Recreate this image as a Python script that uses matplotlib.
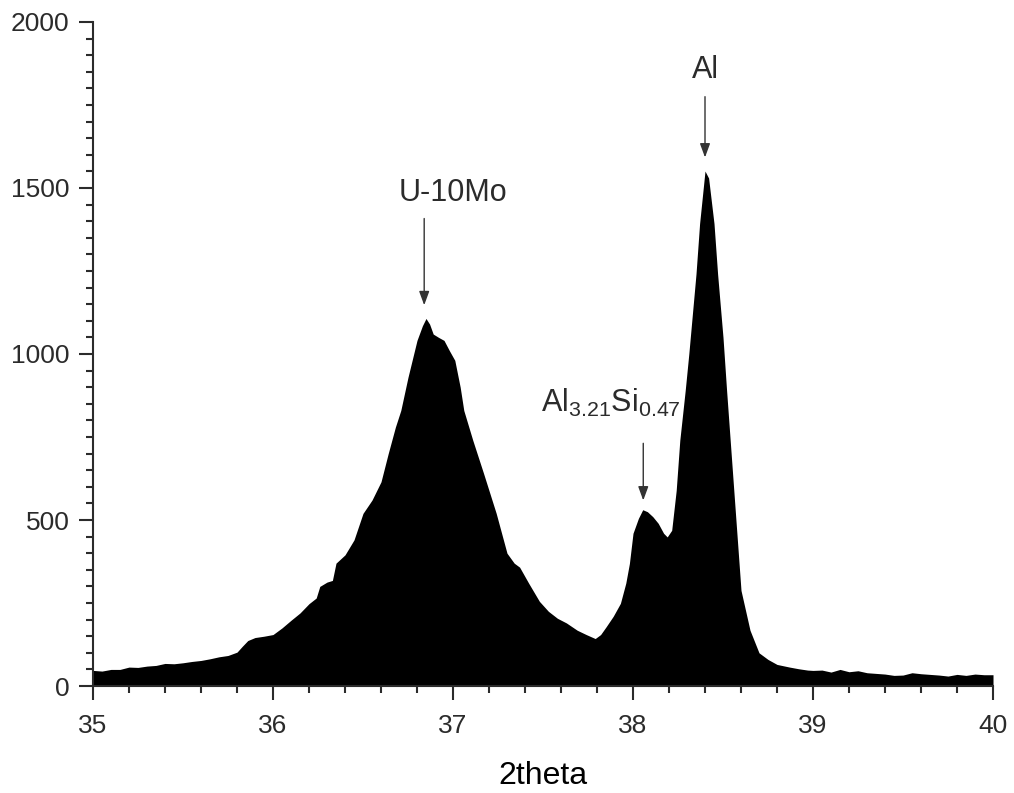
import matplotlib
matplotlib.use("Agg")
import matplotlib.pyplot as plt
from matplotlib.ticker import MultipleLocator

# XRD scan
two_theta = [
    35.00, 35.05, 35.10, 35.15, 35.20, 35.25, 35.30, 35.35, 35.40, 35.45,
    35.50, 35.55, 35.60, 35.65, 35.70, 35.75, 35.80, 35.83, 35.86, 35.90,
    35.95, 36.00, 36.05, 36.10, 36.15, 36.20, 36.24, 36.26, 36.30, 36.33,
    36.35, 36.40, 36.45, 36.50, 36.55, 36.60, 36.64, 36.68, 36.71, 36.75,
    36.80, 36.83, 36.85, 36.87, 36.89, 36.92, 36.95, 36.98, 37.01, 37.04,
    37.06, 37.11, 37.17, 37.24, 37.30, 37.34, 37.37, 37.42, 37.48, 37.53,
    37.58, 37.63, 37.69, 37.74, 37.79, 37.82, 37.85, 37.89, 37.93, 37.96,
    37.98, 38.00, 38.03, 38.054, 38.08, 38.11, 38.14, 38.17, 38.19, 38.215,
    38.24, 38.26, 38.29, 38.31, 38.35, 38.37, 38.40, 38.42, 38.45, 38.47,
    38.50, 38.52, 38.56, 38.60, 38.65, 38.70, 38.75, 38.80, 38.87, 38.92,
    38.97, 39.00, 39.05, 39.10, 39.15, 39.20, 39.25, 39.30, 39.35, 39.40,
    39.45, 39.50, 39.55, 39.60, 39.65, 39.70, 39.75, 39.80, 39.85, 39.90,
    39.95, 40.00,
]
intensity = [
    47, 45, 50, 50, 57, 56, 60, 62, 68, 67,
    70, 74, 77, 82, 88, 92, 102, 120, 137, 146,
    150, 155, 175, 198, 220, 248, 265, 300, 313, 318,
    370, 395, 440, 520, 560, 615, 700, 780, 830, 930,
    1041, 1085, 1107, 1090, 1060, 1050, 1041, 1010, 981, 900,
    830, 740, 640, 520, 400, 370, 358, 310, 255, 225,
    204, 190, 168, 155, 143, 155, 178, 210, 249, 310,
    369, 460, 505, 531, 525, 510, 490, 460, 449, 469,
    589, 740, 890, 1000, 1241, 1393, 1551, 1530, 1393, 1241,
    1050, 890, 589, 288, 168, 100, 80, 65, 57, 52,
    48, 47, 48, 42, 50, 43, 46, 40, 38, 36,
    32, 33, 40, 37, 35, 33, 30, 35, 32, 36,
    34, 34,
]

# peak labels: text, text anchor, arrow tail, arrow tip
labels = ["U-10Mo", r"Al$_\mathregular{3.21}$Si$_\mathregular{0.47}$", "Al"]
label_xy = [(37.0, 1462), (37.875, 825), (38.40, 1830)]
arrow_from = [(36.84, 1408), (38.057, 731), (38.40, 1775)]
arrow_to = [(36.84, 1147), (38.057, 559), (38.40, 1592)]

FG = "#2b2b2b"
plt.rcParams.update({
    "font.family": ["Liberation Sans", "DejaVu Sans"],
    "text.color": FG,
    "axes.edgecolor": FG,
    "xtick.color": FG,
    "ytick.color": FG,
})

fig = plt.figure(figsize=(10.14, 7.93), dpi=100)
ax = fig.add_axes([0.0917, 0.1349, 0.8876, 0.8374])

ax.fill_between(two_theta, intensity, 0, color="black", lw=0)

ax.set_xlim(35, 40)
ax.set_ylim(0, 2000)
ax.xaxis.set_major_locator(MultipleLocator(1))
ax.xaxis.set_minor_locator(MultipleLocator(0.2))
ax.yaxis.set_major_locator(MultipleLocator(500))
ax.yaxis.set_minor_locator(MultipleLocator(50))
ax.tick_params(which="major", direction="out", length=10, width=1.5, labelsize=19, pad=7)
ax.tick_params(axis="x", which="major", pad=10)
ax.tick_params(which="minor", direction="out", length=5, width=1.5)
for side in ("top", "right"):
    ax.spines[side].set_visible(False)
for side in ("left", "bottom"):
    ax.spines[side].set_linewidth(1.5)

ax.set_xlabel("2theta", fontsize=23, labelpad=17)

for txt, (tx, ty), tail, tip in zip(labels, label_xy, arrow_from, arrow_to):
    ax.text(tx, ty, txt, ha="center", va="baseline", fontsize=22)
    ax.annotate("", xy=tip, xytext=tail,
                arrowprops=dict(arrowstyle="-|>,head_length=0.6,head_width=0.22",
                                color="#333333", lw=1.0, mutation_scale=14,
                                shrinkA=0, shrinkB=0))

fig.savefig("out.png", dpi=100)
